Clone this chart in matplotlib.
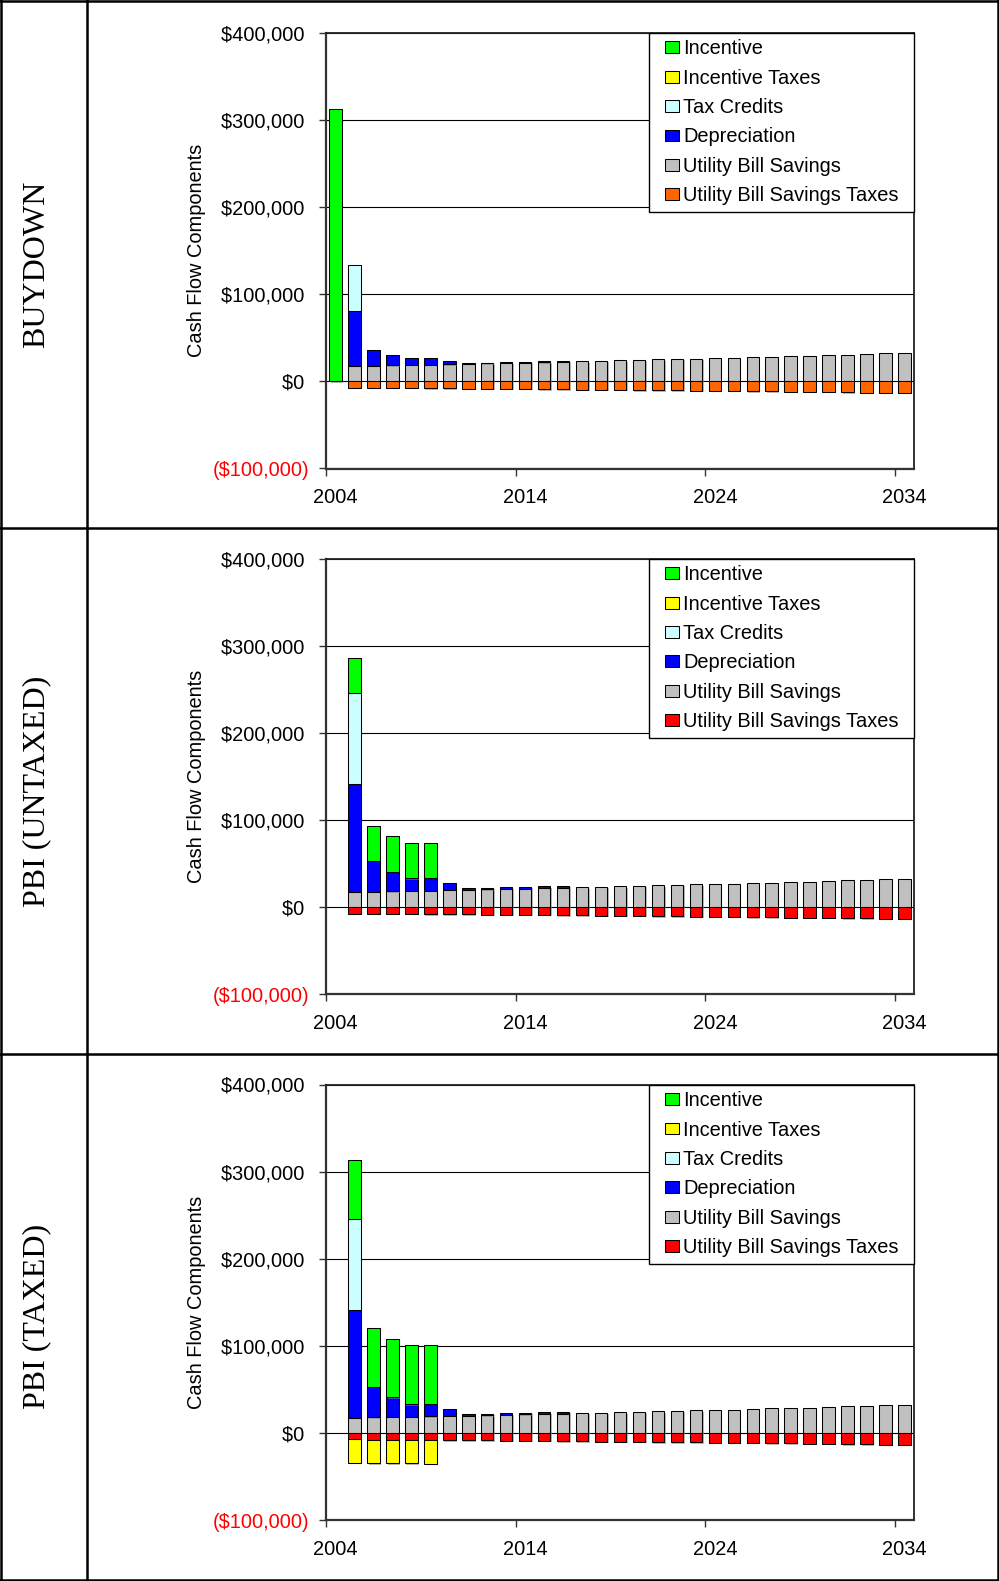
import matplotlib
matplotlib.use("Agg")
import matplotlib.pyplot as plt
import matplotlib.patches as mpatches
import matplotlib.patheffects as pe
from matplotlib.lines import Line2D
from matplotlib.legend_handler import HandlerPatch

plt.rcParams['font.family'] = ['Liberation Sans', 'DejaVu Sans']

# ---------------- data ----------------
years = list(range(2004, 2035))
tick_years = [2004, 2014, 2024, 2034]
y_ticks = [-100000, 0, 100000, 200000, 300000, 400000]
y_tick_labels = ['($100,000)', '$0 ', '$100,000 ', '$200,000 ', '$300,000 ', '$400,000 ']

panel_titles = ['BUYDOWN', 'PBI (UNTAXED)', 'PBI (TAXED)']
series_names = ['Incentive', 'Incentive Taxes', 'Tax Credits', 'Depreciation',
                'Utility Bill Savings', 'Utility Bill Savings Taxes']

utility_bill_savings = [0, 17800, 18000, 18500, 18900, 19200, 19700, 20200, 20600, 21100,
                        21500, 22000, 22500, 23000, 23500, 24100, 24600, 25100, 25600, 26100,
                        26600, 27100, 27800, 28300, 28900, 29400, 30100, 30700, 31400, 32100,
                        32800]
utility_bill_savings_taxes = [0, -7200, -7400, -7600, -7700, -7900, -8100, -8300, -8400, -8700,
                              -8800, -9000, -9200, -9400, -9600, -9900, -10100, -10300, -10500, -10700,
                              -10900, -11100, -11400, -11600, -11800, -12100, -12300, -12600, -12900, -13200,
                              -13400]

buydown_incentive = [312000] + [0] * 30
buydown_incentive_taxes = [0] * 31
buydown_tax_credits = [0, 53200] + [0] * 29
buydown_depreciation = [0, 62800, 18200, 11600, 7500, 7600, 3800, 900, 900, 900, 900, 900, 900] + [0] * 18

pbi_untaxed_incentive = [0, 40400, 40400, 40400, 40400, 40400] + [0] * 25
pbi_untaxed_incentive_taxes = [0] * 31
pbi_untaxed_tax_credits = [0, 104400] + [0] * 29
pbi_untaxed_depreciation = [0, 123900, 35200, 22500, 14300, 14500, 8000, 1800, 1800, 1800, 1800, 1800, 1800] + [0] * 18

pbi_taxed_incentive = [0, 67500, 67500, 67500, 67500, 67500] + [0] * 25
pbi_taxed_incentive_taxes = [0, -27000, -27000, -27000, -27000, -27000] + [0] * 25
pbi_taxed_tax_credits = [0, 104400] + [0] * 29
pbi_taxed_depreciation = [0, 123900, 35200, 22500, 14300, 14500, 8000, 1800, 1800, 1800, 1800, 1800, 1800] + [0] * 18

panels = [
    (buydown_incentive, buydown_incentive_taxes, buydown_tax_credits, buydown_depreciation, '#FF6600'),
    (pbi_untaxed_incentive, pbi_untaxed_incentive_taxes, pbi_untaxed_tax_credits, pbi_untaxed_depreciation, '#FF0000'),
    (pbi_taxed_incentive, pbi_taxed_incentive_taxes, pbi_taxed_tax_credits, pbi_taxed_depreciation, '#FF0000'),
]

C_INC = '#00FF00'
C_INCTAX = '#FFFF00'
C_TC = '#CCFFFF'
C_DEP = '#0000FF'
C_UBS = '#C0C0C0'

# ---------------- figure ----------------
W, H = 999, 1581
fig = plt.figure(figsize=(W / 100, H / 100), dpi=100)

FS = 14.4
BAR_W = 0.66
shadow = [pe.SimplePatchShadow(offset=(1.0, -1.0), shadow_rgbFace='#808080', alpha=0.55), pe.Normal()]

BOX_W, BOX_H = 10.1, 8.6


def legend_box(legend, orig_handle, xdescent, ydescent, width, height, fontsize):
    return mpatches.Rectangle((-xdescent + width - BOX_W, -ydescent + (height - BOX_H) / 2), BOX_W, BOX_H)


ax_left = 326 / W
ax_w = 588 / W
ax_h = 435.8 / H
tops = [32.7, 558.6, 1084.5]
x = list(range(len(years)))

for i, (inc, inctax, tc, dep, c_ubstax) in enumerate(panels):
    top = tops[i]
    ax = fig.add_axes([ax_left, 1 - (top / H) - ax_h, ax_w, ax_h])
    ax.set_axisbelow(True)
    kw = dict(width=BAR_W, edgecolor='black', linewidth=0.75, zorder=3)

    # positive stack
    b0 = [0] * len(x)
    bars = ax.bar(x, utility_bill_savings, bottom=b0, color=C_UBS, **kw)
    for p in bars:
        p.set_path_effects(shadow)
    b1 = [a + b for a, b in zip(b0, utility_bill_savings)]
    bars = ax.bar(x, dep, bottom=b1, color=C_DEP, **kw)
    for p in bars:
        p.set_path_effects(shadow)
    b2 = [a + b for a, b in zip(b1, dep)]
    bars = ax.bar(x, tc, bottom=b2, color=C_TC, **kw)
    for p in bars:
        p.set_path_effects(shadow)
    b3 = [a + b for a, b in zip(b2, tc)]
    bars = ax.bar(x, inc, bottom=b3, color=C_INC, **kw)
    for p in bars:
        p.set_path_effects(shadow)
    # negative stack
    bars = ax.bar(x, utility_bill_savings_taxes, bottom=[0] * len(x), color=c_ubstax, **kw)
    for p in bars:
        p.set_path_effects(shadow)
    bars = ax.bar(x, inctax, bottom=utility_bill_savings_taxes, color=C_INCTAX, **kw)
    for p in bars:
        p.set_path_effects(shadow)

    # hide zero-height bars
    for cont in ax.containers:
        for p in cont:
            if p.get_height() == 0:
                p.set_visible(False)

    ax.set_xlim(-0.5, len(years) - 0.5)
    ax.set_ylim(-100000, 400000)

    ax.set_yticks(y_ticks)
    ax.set_yticklabels(y_tick_labels)
    for lab, v in zip(ax.get_yticklabels(), y_ticks):
        lab.set_color('#FF0000' if v < 0 else 'black')
    ax.tick_params(axis='y', direction='out', length=5, width=1, pad=6.8, labelsize=FS, color='#333333')

    major = [years.index(y) - 0.5 for y in tick_years]
    ax.set_xticks(major)
    ax.set_xticklabels([])
    ax.set_xticks([years.index(y) for y in tick_years], minor=True)
    ax.set_xticklabels([str(y) for y in tick_years], minor=True)
    ax.tick_params(axis='x', which='major', direction='out', length=5, width=1, color='#333333')
    ax.tick_params(axis='x', which='minor', length=0, pad=13.9, labelsize=FS)

    ax.yaxis.grid(True, color='black', linewidth=0.8)
    ax.xaxis.grid(False)
    for s in ['left', 'bottom']:
        ax.spines[s].set_color('#333333')
        ax.spines[s].set_linewidth(1.6)
    for s in ['top', 'right']:
        ax.spines[s].set_color('#222222')
        ax.spines[s].set_linewidth(1.3)

    ax.set_ylabel('Cash Flow Components', fontsize=FS)
    ax.yaxis.set_label_coords((206 - 326) / 588, 0.5)

    handles = [mpatches.Patch(facecolor=c, edgecolor='black', linewidth=0.75)
               for c in [C_INC, C_INCTAX, C_TC, C_DEP, C_UBS, c_ubstax]]
    leg = ax.legend(handles, series_names, loc='upper left',
                    bbox_to_anchor=((649 - 326) / 588, 0.0, (914 - 649) / 588, 1.0),
                    mode='expand', borderaxespad=0, fontsize=FS, fancybox=False,
                    framealpha=1, edgecolor='black', borderpad=0.33, labelspacing=0.52,
                    handlelength=1.165, handleheight=0.7, handletextpad=0.22,
                    handler_map={mpatches.Patch: HandlerPatch(patch_func=legend_box)})
    leg.get_frame().set_linewidth(1.0)
    leg.set_zorder(10)

    # row label
    cy = [264, 791, 1316.5][i]
    fig.text(37 / W, 1 - cy / H, panel_titles[i], rotation=90, ha='center', va='center',
             fontsize=23, family=['Liberation Serif', 'DejaVu Serif'])

# table lines
lw = 1.8
def hline(y, x0=0.0, x1=1.0):
    fig.add_artist(Line2D([x0, x1], [1 - y / H, 1 - y / H], transform=fig.transFigure, color='black', lw=lw))

def vline(xp, y0=0.0, y1=1.0):
    fig.add_artist(Line2D([xp / W, xp / W], [y0, y1], transform=fig.transFigure, color='black', lw=lw))

hline(1.2)
hline(528)
hline(1054)
hline(1579.8)
vline(1.2)
vline(87)
vline(997.8)

fig.savefig('out.png', dpi=100)
